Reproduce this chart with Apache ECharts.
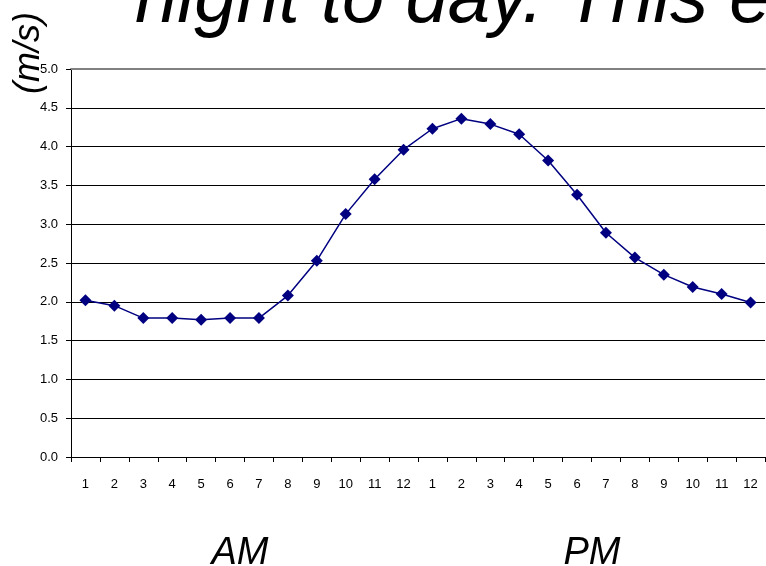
<!DOCTYPE html>
<html>
<head>
<meta charset="utf-8">
<script src="https://cdn.jsdelivr.net/npm/echarts@6/dist/echarts.min.js"></script>
<style>
html,body{margin:0;padding:0;background:#fff;}
#c{width:766px;height:566px;}
</style>
</head>
<body>
<div id="c"></div>
<script>
var hourLabels = ["1","2","3","4","5","6","7","8","9","10","11","12","1","2","3","4","5","6","7","8","9","10","11","12"];
var windSpeed = [2.02,1.95,1.79,1.79,1.77,1.79,1.79,2.08,2.53,3.13,3.58,3.96,4.23,4.36,4.29,4.16,3.82,3.38,2.89,2.57,2.35,2.19,2.10,1.99];
var yTicks = [0,0.5,1,1.5,2,2.5,3,3.5,4,4.5,5];
var titleText = "night to day. This e";
var unitText = "(m/s)";
var periodLabels = ["AM","PM"];

var chart = echarts.init(document.getElementById('c'), null, {renderer:'canvas'});
var FONT = '"Liberation Sans", Arial, sans-serif';
chart.setOption({
  animation:false,
  textStyle:{fontFamily:FONT},
  grid:{left:71,right:1,top:69,bottom:109,containLabel:false},
  xAxis:[{
    type:'category',
    data:hourLabels,
    boundaryGap:true,
    axisLine:{lineStyle:{color:'#000',width:1}},
    axisTick:{show:true,length:5,alignWithLabel:false,lineStyle:{color:'#000'}},
    axisLabel:{color:'#000',fontSize:13,fontFamily:FONT,margin:21,interval:0},
    splitLine:{show:false}
  },{
    type:'category',
    position:'top',
    data:hourLabels,
    axisLine:{show:true,lineStyle:{color:'#808080',width:2}},
    axisTick:{show:false},
    axisLabel:{show:false},
    splitLine:{show:false}
  }],
  yAxis:{
    type:'value',
    min:yTicks[0],
    max:yTicks[yTicks.length-1],
    interval:0.5,
    axisLine:{show:true,lineStyle:{color:'#000',width:1}},
    axisTick:{show:true,length:5,lineStyle:{color:'#000'}},
    axisLabel:{color:'#000',fontSize:13,fontFamily:FONT,margin:13,formatter:function(v){return v.toFixed(1);}},
    splitLine:{show:true,lineStyle:{color:'#000',width:1}}
  },
  series:[{
    type:'line',
    data:windSpeed,
    xAxisIndex:0,
    symbol:'diamond',
    symbolSize:12,
    showSymbol:true,
    itemStyle:{color:'#000080'},
    lineStyle:{color:'#000080',width:1.5}
  }],
  graphic:[
    {type:'text',x:135,y:1,style:{text:titleText,font:'italic 76px '+FONT,fill:'#000',align:'left',verticalAlign:'middle'}},
    {type:'text',x:29,y:53,rotation:Math.PI/2,style:{text:unitText,font:'italic 36px '+FONT,fill:'#000',align:'center',verticalAlign:'middle'}},
    {type:'text',x:240,y:553,style:{text:periodLabels[0],font:'italic 38px '+FONT,fill:'#000',align:'center',verticalAlign:'middle'}},
    {type:'text',x:592,y:553,style:{text:periodLabels[1],font:'italic 38px '+FONT,fill:'#000',align:'center',verticalAlign:'middle'}}
  ]
});
</script>
</body>
</html>
